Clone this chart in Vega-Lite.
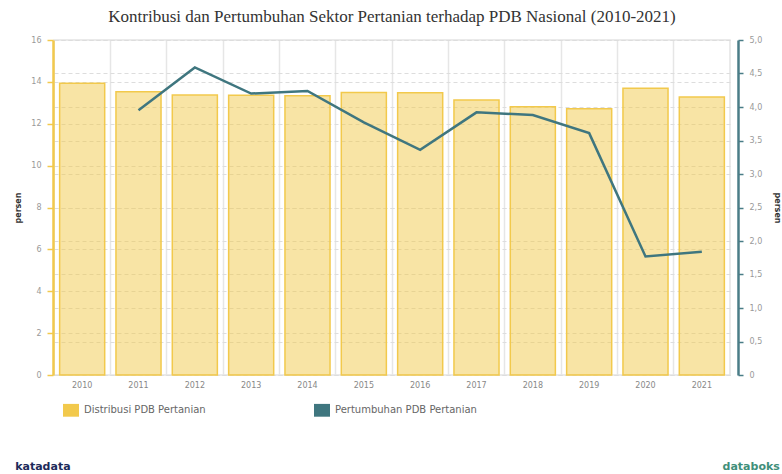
{
  "$schema": "https://vega.github.io/schema/vega-lite/v6.json",
  "width": 676,
  "height": 335,
  "autosize": {"type": "none"},
  "padding": {"left": 54, "top": 40, "right": 52, "bottom": 99},
  "background": "#ffffff",
  "title": {
    "text": "Kontribusi dan Pertumbuhan Sektor Pertanian terhadap PDB Nasional (2010-2021)",
    "font": "Liberation Serif",
    "fontSize": 17,
    "fontWeight": "normal",
    "color": "#333333",
    "offset": 10,
    "anchor": "middle"
  },
  "config": {
    "view": {"stroke": "#e4e4e4", "strokeWidth": 1.5},
    "axis": {
      "labelFont": "DejaVu Sans",
      "labelFontSize": 8,
      "labelColor": "#999999",
      "titleFont": "DejaVu Sans"
    }
  },
  "datasets": {
    "pdb": [
      {"tahun": "2010", "seri": "Distribusi PDB Pertanian", "nilai": 13.93},
      {"tahun": "2011", "seri": "Distribusi PDB Pertanian", "nilai": 13.53},
      {"tahun": "2012", "seri": "Distribusi PDB Pertanian", "nilai": 13.37},
      {"tahun": "2013", "seri": "Distribusi PDB Pertanian", "nilai": 13.36},
      {"tahun": "2014", "seri": "Distribusi PDB Pertanian", "nilai": 13.34},
      {"tahun": "2015", "seri": "Distribusi PDB Pertanian", "nilai": 13.49},
      {"tahun": "2016", "seri": "Distribusi PDB Pertanian", "nilai": 13.48},
      {"tahun": "2017", "seri": "Distribusi PDB Pertanian", "nilai": 13.14},
      {"tahun": "2018", "seri": "Distribusi PDB Pertanian", "nilai": 12.81},
      {"tahun": "2019", "seri": "Distribusi PDB Pertanian", "nilai": 12.72},
      {"tahun": "2020", "seri": "Distribusi PDB Pertanian", "nilai": 13.70},
      {"tahun": "2021", "seri": "Distribusi PDB Pertanian", "nilai": 13.28},
      {"tahun": "2011", "seri": "Pertumbuhan PDB Pertanian", "nilai": 3.95},
      {"tahun": "2012", "seri": "Pertumbuhan PDB Pertanian", "nilai": 4.59},
      {"tahun": "2013", "seri": "Pertumbuhan PDB Pertanian", "nilai": 4.20},
      {"tahun": "2014", "seri": "Pertumbuhan PDB Pertanian", "nilai": 4.24},
      {"tahun": "2015", "seri": "Pertumbuhan PDB Pertanian", "nilai": 3.77},
      {"tahun": "2016", "seri": "Pertumbuhan PDB Pertanian", "nilai": 3.36},
      {"tahun": "2017", "seri": "Pertumbuhan PDB Pertanian", "nilai": 3.92},
      {"tahun": "2018", "seri": "Pertumbuhan PDB Pertanian", "nilai": 3.88},
      {"tahun": "2019", "seri": "Pertumbuhan PDB Pertanian", "nilai": 3.61},
      {"tahun": "2020", "seri": "Pertumbuhan PDB Pertanian", "nilai": 1.77},
      {"tahun": "2021", "seri": "Pertumbuhan PDB Pertanian", "nilai": 1.84}
    ],
    "logo": [
      {"tahun": "2010", "teks": "katadata"},
      {"tahun": "2021", "teks": "databoks"}
    ]
  },
  "encoding": {
    "x": {
      "field": "tahun",
      "type": "ordinal",
      "scale": {"paddingInner": 0.2, "paddingOuter": 0.1},
      "axis": {
        "title": null,
        "labelAngle": 0,
        "ticks": false,
        "domain": false,
        "grid": true,
        "gridColor": "#e6e6e6",
        "gridWidth": 1.5,
        "bandPosition": -0.125,
        "labelPadding": 6,
        "labelColor": "#888888",
        "labelFontSize": 8
      }
    }
  },
  "layer": [
    {
      "data": {"name": "pdb"},
      "transform": [{"filter": "datum.seri === 'Distribusi PDB Pertanian'"}],
      "mark": {"type": "bar", "fillOpacity": 0.5, "stroke": "#f2c94c", "strokeWidth": 1.5},
      "encoding": {
        "y": {
          "field": "nilai",
          "type": "quantitative",
          "scale": {"domain": [0, 16], "nice": false},
          "axis": {
            "orient": "left",
            "title": "persen",
            "titleFontSize": 8,
            "titleFontWeight": "bold",
            "titleColor": "#333333",
            "titlePadding": 8,
            "values": [0, 2, 4, 6, 8, 10, 12, 14, 16],
            "grid": true,
            "gridColor": "#dddddd",
            "gridDash": [4, 3],
            "domainColor": "#f2c94c",
            "domainWidth": 2.5,
            "tickColor": "#f2c94c",
            "tickSize": 6,
            "tickWidth": 1.5,
            "labelPadding": 6,
            "offset": 1
          }
        },
        "color": {
          "field": "seri",
          "type": "nominal",
          "scale": {
            "domain": ["Distribusi PDB Pertanian", "Pertumbuhan PDB Pertanian"],
            "range": ["#f2c94c", "#3f767f"]
          },
          "legend": {
            "title": null,
            "orient": "none",
            "legendX": 9,
            "legendY": 362,
            "direction": "horizontal",
            "padding": 0,
            "symbolType": "M-1,-0.8L1,-0.8L1,0.8L-1,0.8Z",
            "symbolSize": 256,
            "symbolStrokeWidth": 0,
            "symbolOpacity": 1,
            "labelFont": "DejaVu Sans",
            "labelFontSize": 10,
            "labelColor": "#666666",
            "labelOffset": 5,
            "columnPadding": 108,
            "labelLimit": 300
          }
        }
      }
    },
    {
      "data": {"name": "pdb"},
      "transform": [{"filter": "datum.seri === 'Pertumbuhan PDB Pertanian'"}],
      "mark": {"type": "line", "strokeWidth": 2.5},
      "encoding": {
        "y": {
          "field": "nilai",
          "type": "quantitative",
          "scale": {"domain": [0, 5], "nice": false},
          "axis": {
            "orient": "right",
            "title": "persen",
            "titleFontSize": 8,
            "titleFontWeight": "bold",
            "titleColor": "#333333",
            "titlePadding": 11,
            "values": [0, 0.5, 1, 1.5, 2, 2.5, 3, 3.5, 4, 4.5, 5],
            "labelExpr": "datum.value == 0 ? '0' : replace(format(datum.value, '.1f'), '.', ',')",
            "grid": true,
            "gridColor": "#dddddd",
            "gridDash": [4, 3],
            "domainColor": "#4a7d87",
            "domainWidth": 2.5,
            "tickColor": "#4a7d87",
            "tickSize": 5,
            "tickWidth": 1.5,
            "labelPadding": 6,
            "offset": 8
          }
        },
        "color": {"field": "seri", "type": "nominal"}
      }
    },
    {
      "data": {"name": "logo"},
      "transform": [{"filter": "datum.teks === 'katadata'"}],
      "mark": {"type": "text", "font": "DejaVu Sans", "fontSize": 11, "fontWeight": "bold", "color": "#1d2b5a", "align": "left", "baseline": "middle", "dx": -67},
      "encoding": {
        "text": {"field": "teks"},
        "y": {"datum": -4.4, "type": "quantitative", "scale": {"domain": [0, 16], "nice": false}, "axis": null}
      }
    },
    {
      "data": {"name": "logo"},
      "transform": [{"filter": "datum.teks === 'databoks'"}],
      "mark": {"type": "text", "font": "DejaVu Sans", "fontSize": 11, "fontWeight": "bold", "color": "#3f8f7a", "align": "right", "baseline": "middle", "dx": 78},
      "encoding": {
        "text": {"field": "teks"},
        "y": {"datum": -4.4, "type": "quantitative", "scale": {"domain": [0, 16], "nice": false}, "axis": null}
      }
    }
  ],
  "resolve": {"scale": {"y": "independent"}}
}
